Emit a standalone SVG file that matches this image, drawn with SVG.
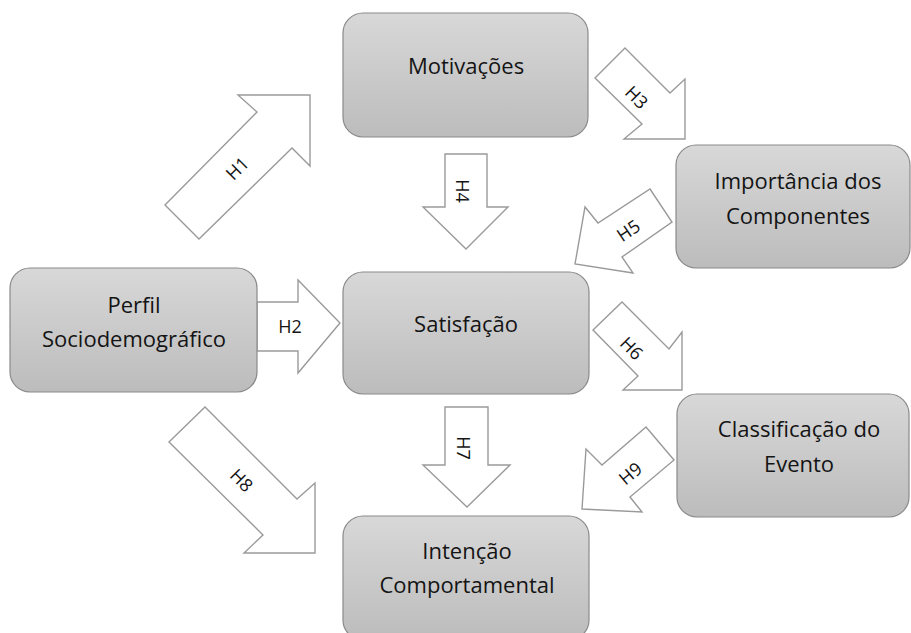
<svg xmlns="http://www.w3.org/2000/svg" width="911" height="633" viewBox="0 0 911 633">
  <defs>
    <linearGradient id="boxFill" x1="0" y1="0" x2="0" y2="1">
      <stop offset="0" stop-color="#d8d8d8"/>
      <stop offset="1" stop-color="#bcbcbc"/>
    </linearGradient>
    <style>
      .box { fill: url(#boxFill); stroke: #8a8a8a; stroke-width: 1.2; }
      .lbl { font-family: "Open Sans", "Liberation Sans", sans-serif; font-size: 22px; fill: #141414; text-anchor: middle; }
      .arr { fill: #ffffff; stroke: #9a9a9a; stroke-width: 1.4; stroke-linejoin: miter; }
      .h { font-family: "Open Sans", "Liberation Sans", sans-serif; font-size: 18px; fill: #141414; text-anchor: middle; dominant-baseline: central; }
    </style>
  </defs>
  <rect width="911" height="633" fill="#ffffff"/>

  <!-- block arrows (hypotheses H1..H9) -->
  <g id="connectors">
    <g id="h1">
      <polygon class="arr" points="165,205 257,112 238,95 310,95 310,166 292,148 199,239"/>
      <text class="h" transform="translate(237,168) rotate(-45)">H1</text>
    </g>
    <g id="h2">
      <polygon class="arr" points="257,302 298,302 298,280 340,323 298,373 298,351 257,351"/>
      <text class="h" x="290" y="326">H2</text>
    </g>
    <g id="h3">
      <polygon class="arr" points="595,78 625,48 670,93 685,79 685,139 624,139 642,124"/>
      <text class="h" transform="translate(637,97) rotate(45)">H3</text>
    </g>
    <g id="h4">
      <polygon class="arr" points="445,154 487,154 487,207 508,207 466,249 423,207 445,207"/>
      <text class="h" transform="translate(463,191) rotate(90)">H4</text>
    </g>
    <g id="h5">
      <polygon class="arr" points="650,189 672,222 622,257 633,273 575,264 585,207 598,223"/>
      <text class="h" transform="translate(628,230) rotate(-34)">H5</text>
    </g>
    <g id="h6">
      <polygon class="arr" points="593,330 622,302 669,349 682,332 682,390 623,390 638,376"/>
      <text class="h" transform="translate(632,348) rotate(45)">H6</text>
    </g>
    <g id="h7">
      <polygon class="arr" points="445,407 488,407 488,465 510,465 467,507 423,465 445,465"/>
      <text class="h" transform="translate(464,448) rotate(90)">H7</text>
    </g>
    <g id="h8">
      <polygon class="arr" points="169,442 205,407 297,499 315,483 315,553 244,553 263,535"/>
      <text class="h" transform="translate(242,480) rotate(45)">H8</text>
    </g>
    <g id="h9">
      <polygon class="arr" points="646,427 674,460 630,497 642,512 582,509 586,449 602,465"/>
      <text class="h" transform="translate(630,473) rotate(-40)">H9</text>
    </g>
  </g>

  <!-- construct boxes -->
  <g id="motivacoes">
    <rect class="box" x="343" y="13" width="245" height="124" rx="20"/>
    <text class="lbl" x="466" y="74">Motivações</text>
  </g>
  <g id="importancia">
    <rect class="box" x="676" y="145" width="234" height="123" rx="20"/>
    <text class="lbl" x="798" y="189">Importância dos</text>
    <text class="lbl" x="798" y="224">Componentes</text>
  </g>
  <g id="perfil">
    <rect class="box" x="10" y="268" width="247" height="124" rx="20"/>
    <text class="lbl" x="134" y="313">Perfil</text>
    <text class="lbl" x="134" y="347">Sociodemográfico</text>
  </g>
  <g id="satisfacao">
    <rect class="box" x="343" y="272" width="246" height="122" rx="20"/>
    <text class="lbl" x="466" y="332">Satisfação</text>
  </g>
  <g id="classificacao">
    <rect class="box" x="677" y="394" width="232" height="123" rx="20"/>
    <text class="lbl" x="799" y="437">Classificação do</text>
    <text class="lbl" x="799" y="472">Evento</text>
  </g>
  <g id="intencao">
    <rect class="box" x="343" y="516" width="246" height="124" rx="20"/>
    <text class="lbl" x="467" y="559">Intenção</text>
    <text class="lbl" x="467" y="593">Comportamental</text>
  </g>
</svg>
